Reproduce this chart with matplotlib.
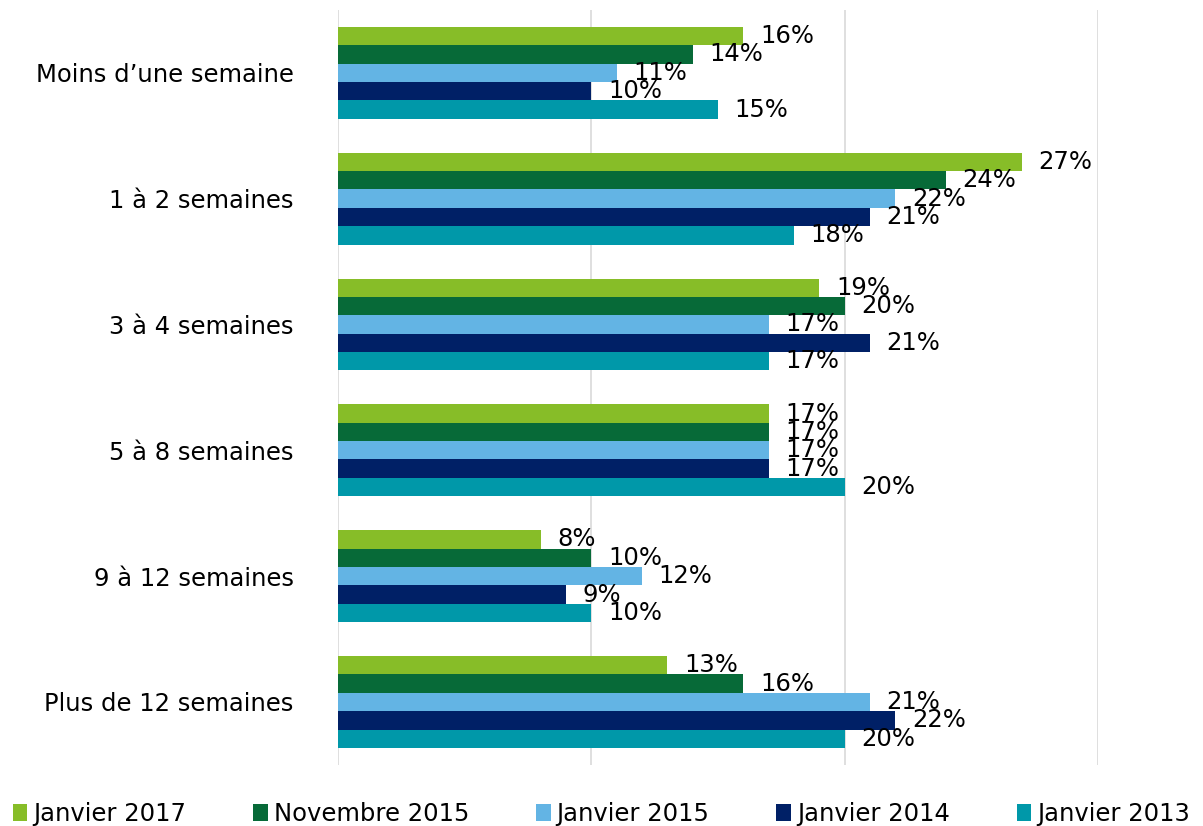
import numpy as np
import matplotlib
matplotlib.use("Agg")
import matplotlib.pyplot as plt
from matplotlib.patches import Patch

# données
categories = [
    "Moins d’une semaine",
    "1 à 2 semaines",
    "3 à 4 semaines",
    "5 à 8 semaines",
    "9 à 12 semaines",
    "Plus de 12 semaines",
]
series_names = ["Janvier 2017", "Novembre 2015", "Janvier 2015", "Janvier 2014", "Janvier 2013"]
jan_2017 = [16, 27, 19, 17, 8, 13]
nov_2015 = [14, 24, 20, 17, 10, 16]
jan_2015 = [11, 22, 17, 17, 12, 21]
jan_2014 = [10, 21, 21, 17, 9, 22]
jan_2013 = [15, 18, 17, 20, 10, 20]

series_values = [jan_2017, nov_2015, jan_2015, jan_2014, jan_2013]
colors = ["#87BD28", "#076A38", "#63B4E4", "#002066", "#0098A9"]

FS = 17.5
plt.rcParams.update({"font.family": "DejaVu Sans", "font.size": FS})

fig = plt.figure(figsize=(12.03, 8.26), dpi=100)
ax = fig.add_axes([0.281, 0.074, 0.6317, 0.914])

n_series = len(series_values)
band = 0.73
h = band / n_series
y = np.arange(len(categories))

for i, (vals, col) in enumerate(zip(series_values, colors)):
    pos = y - band / 2 + h * (i + 0.5)
    ax.barh(pos, vals, height=h, color=col, edgecolor="none", zorder=3)
    for p, v in zip(pos, vals):
        ax.annotate(f"{v}%", (v, p), xytext=(12, 0), textcoords="offset points",
                    ha="left", va="center", fontsize=FS, color="black", zorder=4)

ax.set_xlim(0, 30)
ax.set_ylim(len(categories) - 0.5, -0.5)
ax.set_xticks([0, 10, 20, 30])
ax.set_xticklabels([])
ax.set_yticks(y)
ax.set_yticklabels(categories, fontsize=FS)
ax.tick_params(axis="both", length=0)
ax.tick_params(axis="y", pad=32)
ax.grid(axis="x", color="#D9D9D9", linewidth=1.2, zorder=0)
for s in ax.spines.values():
    s.set_visible(False)

handles = [Patch(facecolor=c, edgecolor="none") for c in colors]
fig.legend(handles, series_names, loc="lower center", bbox_to_anchor=(0.5, -0.026), ncol=5,
           frameon=False, fontsize=FS, handlelength=0.6, handleheight=0.7,
           handletextpad=0.25, columnspacing=2.75)

fig.savefig("out.png", dpi=100)
